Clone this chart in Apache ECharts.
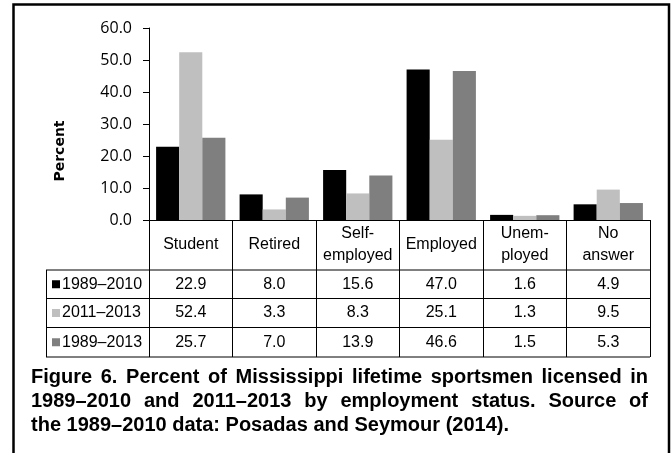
<!DOCTYPE html>
<html>
<head>
<meta charset="utf-8">
<script src="https://cdn.jsdelivr.net/npm/echarts@6/dist/echarts.min.js"></script>
<style>
  html, body { margin: 0; padding: 0; background: #fff; }
  #chart { width: 671px; height: 453px; }
</style>
</head>
<body>
<div id="chart"></div>
<script>
// Employment status categories (header row of the data table)
const categories = ['Student', 'Retired', 'Self-\nemployed', 'Employed', 'Unem-\nployed', 'No\nanswer'];
// Licensing periods
const seriesNames = ['1989–2010', '2011–2013', '1989–2013'];
// Percent of lifetime sportsmen by period
const values1989to2010 = [22.9, 8.0, 15.6, 47.0, 1.6, 4.9];
const values2011to2013 = [52.4, 3.3, 8.3, 25.1, 1.3, 9.5];
const values1989to2013 = [25.7, 7.0, 13.9, 46.6, 1.5, 5.3];
const yTickValues = [0, 10, 20, 30, 40, 50, 60];
const yAxisTitle = 'Percent';
const captionLines = [
  'Figure 6. Percent of Mississippi lifetime sportsmen licensed in',
  '1989–2010 and 2011–2013 by employment status. Source of',
  'the 1989–2010 data: Posadas and Seymour (2014).'
];

const seriesValues = [values1989to2010, values2011to2013, values1989to2013];
const seriesColors = ['#000000', '#bfbfbf', '#7f7f7f'];
const tableFont = "'Liberation Sans', Arial, sans-serif";
const axisFont = "'Open Sans', sans-serif";
const titleFont = "'DejaVu Sans', sans-serif";
const captionFont = "'Liberation Sans', Arial, sans-serif";

const grid = { left: 149, right: 21, top: 28, bottom: 233 };
const rowLines = [270, 298.5, 327.5, 357];
const tableLeft = 46;

const chart = echarts.init(document.getElementById('chart'), null, { renderer: 'canvas' });

chart.setOption({
  animation: false,
  backgroundColor: '#ffffff',
  grid: grid,
  xAxis: {
    type: 'category',
    data: categories,
    axisLine: { show: true, lineStyle: { color: '#000', width: 1 } },
    axisTick: { show: true, alignWithLabel: false, interval: 0, length: 357 - 220, lineStyle: { color: '#000', width: 1 } },
    axisLabel: {
      interval: 0, color: '#000', fontFamily: tableFont, fontSize: 16,
      lineHeight: 22, verticalAlign: 'middle', margin: 25
    },
    splitLine: { show: false }
  },
  yAxis: {
    type: 'value',
    min: yTickValues[0],
    max: yTickValues[yTickValues.length - 1],
    interval: yTickValues[1] - yTickValues[0],
    axisLine: { show: true, lineStyle: { color: '#000', width: 1 } },
    axisTick: { show: true, length: 6, lineStyle: { color: '#000' } },
    axisLabel: {
      color: '#000', fontFamily: axisFont, fontSize: 16, margin: 17,
      formatter: v => v.toFixed(1)
    },
    splitLine: { show: false }
  },
  series: seriesNames.map((name, i) => ({
    name: name,
    type: 'bar',
    data: seriesValues[i],
    barGap: '0%',
    barCategoryGap: '17%',
    itemStyle: { color: seriesColors[i] }
  }))
});

// Data table, legend keys, axis title, caption and frame
const graphics = [];
const right = 671 - grid.right;

// vertical axis title
graphics.push({
  type: 'text', silent: true,
  x: 60, y: 151, rotation: Math.PI / 2,
  style: { text: yAxisTitle, fill: '#000', font: 'bold 14px ' + titleFont, align: 'center', verticalAlign: 'middle' }
});

// horizontal rules of the table
rowLines.forEach(y => {
  graphics.push({
    type: 'line', silent: true,
    shape: { x1: tableLeft, y1: y, x2: right, y2: y },
    style: { stroke: '#000', lineWidth: 1 }
  });
});
// left edge of legend column
graphics.push({
  type: 'line', silent: true,
  shape: { x1: tableLeft + 0.5, y1: rowLines[0], x2: tableLeft + 0.5, y2: rowLines[3] },
  style: { stroke: '#000', lineWidth: 1 }
});

seriesNames.forEach((name, r) => {
  const cy = (rowLines[r] + rowLines[r + 1]) / 2;
  graphics.push({
    type: 'rect', silent: true,
    shape: { x: 52, y: cy - 4, width: 8, height: 8 },
    style: { fill: seriesColors[r] }
  });
  graphics.push({
    type: 'text', silent: true,
    x: 62, y: cy,
    style: { text: name, fill: '#000', font: '16px ' + tableFont, align: 'left', verticalAlign: 'middle' }
  });
  seriesValues[r].forEach((v, c) => {
    const px = chart.convertToPixel({ xAxisIndex: 0 }, c);
    graphics.push({
      type: 'text', silent: true,
      x: px, y: cy,
      style: { text: v.toFixed(1), fill: '#000', font: '16px ' + tableFont, align: 'center', verticalAlign: 'middle' }
    });
  });
});

// Caption, justified across the frame width
const captionCss = 'bold 20px ' + captionFont;
const measureCtx = document.createElement('canvas').getContext('2d');
measureCtx.font = captionCss;
const capLeft = 31, capRight = 648;
const capYs = [377, 401, 425];
captionLines.forEach((line, li) => {
  const words = line.split(' ');
  const widths = words.map(w => measureCtx.measureText(w).width);
  const total = widths.reduce((a, b) => a + b, 0);
  const isLast = li === captionLines.length - 1;
  const gap = isLast ? measureCtx.measureText(' ').width : (capRight - capLeft - total) / (words.length - 1);
  let x = capLeft;
  words.forEach((w, wi) => {
    graphics.push({
      type: 'text', silent: true,
      x: x, y: capYs[li],
      style: { text: w, fill: '#000', font: captionCss, align: 'left', verticalAlign: 'middle' }
    });
    x += widths[wi] + gap;
  });
});

// outer frame
graphics.push({
  type: 'rect', silent: true,
  shape: { x: 13.5, y: 4.5, width: 655.5, height: 470 },
  style: { fill: 'none', stroke: '#000', lineWidth: 2.5 }
});

chart.setOption({ graphic: graphics });
</script>
</body>
</html>
